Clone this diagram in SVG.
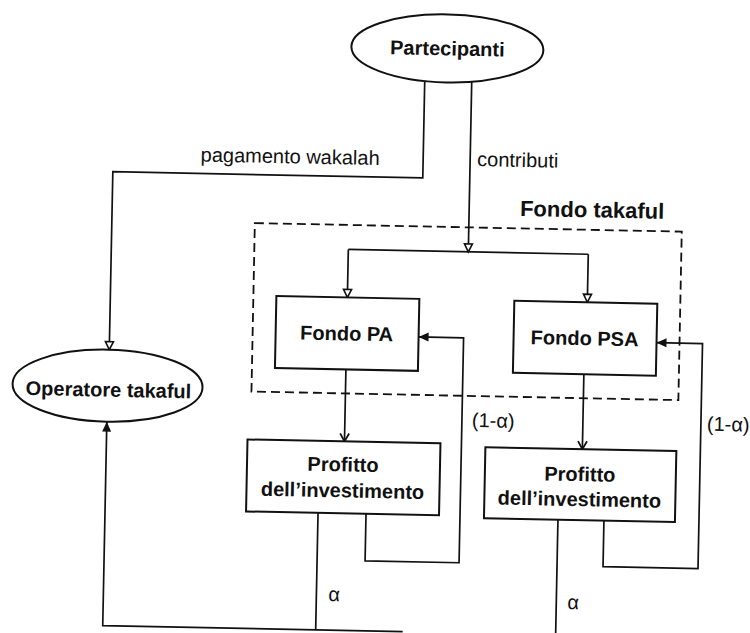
<svg xmlns="http://www.w3.org/2000/svg" width="750" height="633" viewBox="0 0 750 633">
  <style>
    .ln { fill: none; stroke: #111; stroke-width: 1.7; stroke-linejoin: miter; }
    .box { fill: #fff; stroke: #111; stroke-width: 2; }
    .dash { fill: none; stroke: #111; stroke-width: 1.8; stroke-dasharray: 9 5; }
    .nl { font-family: "Liberation Sans", Arial, sans-serif; font-weight: bold; font-size: 20px; fill: #111; text-anchor: middle; }
    .el { font-family: "Liberation Sans", Arial, sans-serif; font-size: 20px; fill: #111; }
    .title { font-family: "Liberation Sans", Arial, sans-serif; font-weight: bold; font-size: 22px; fill: #111; text-anchor: middle; }
  </style>
  <defs>
    <!-- hollow triangle head -->
    <marker id="tri" markerUnits="userSpaceOnUse" markerWidth="12" markerHeight="12" refX="9" refY="5" orient="auto" overflow="visible">
      <path d="M1,1 L9,5 L1,9 Z" fill="#fff" stroke="#111" stroke-width="1.6"/>
    </marker>
    <!-- open chevron head -->
    <marker id="vee" markerUnits="userSpaceOnUse" markerWidth="12" markerHeight="12" refX="9" refY="5" orient="auto" overflow="visible">
      <path d="M1,0.5 L9,5 L1,9.5" fill="none" stroke="#111" stroke-width="1.8"/>
    </marker>
    <!-- solid head -->
    <marker id="solid" markerUnits="userSpaceOnUse" markerWidth="12" markerHeight="12" refX="10" refY="5" orient="auto" overflow="visible">
      <path d="M0,0.5 L10,5 L0,9.5 Z" fill="#111"/>
    </marker>
  </defs>

  <rect x="0" y="0" width="750" height="633" fill="#fff"/>

  <g transform="rotate(1.15 375 316)">
    <!-- Fondo takaful boundary -->
    <g id="fondo-takaful">
      <rect class="dash" x="253" y="225.5" width="427" height="168.5"/>
      <text class="title" x="590" y="213">Fondo takaful</text>
    </g>

    <g id="connectors">
      <!-- pagamento wakalah -->
      <path class="ln" d="M420,80 V177 H110 V355" marker-end="url(#tri)"/>
      <text class="el" x="287" y="165" text-anchor="middle">pagamento wakalah</text>
      <!-- contributi -->
      <path class="ln" d="M467,80 V250" marker-end="url(#tri)"/>
      <text class="el" x="474" y="164" font-size="21">contributi</text>
      <!-- split into the two funds -->
      <path class="ln" d="M347,250 H587"/>
      <path class="ln" d="M347,250 V298" marker-end="url(#tri)"/>
      <path class="ln" d="M587,250 V298" marker-end="url(#tri)"/>
      <!-- funds to investment profit -->
      <path class="ln" d="M347,370 V442" marker-end="url(#vee)"/>
      <path class="ln" d="M585,370 V445" marker-end="url(#vee)"/>
      <!-- (1-α) back to the funds -->
      <path class="ln" d="M370,514 V561 H464 V336 H419" marker-end="url(#solid)"/>
      <text class="el" x="474" y="425" font-size="19">(1-α)</text>
      <path class="ln" d="M608,516 V562 H703 V337 H657" marker-end="url(#solid)"/>
      <text class="el" x="709" y="424" font-size="19">(1-α)</text>
      <!-- α to the operator -->
      <path class="ln" d="M322,514 V631"/>
      <text class="el" x="334" y="602" font-size="19">α</text>
      <path class="ln" d="M409,631 H109 V427" marker-end="url(#solid)"/>
      <path class="ln" d="M562,516 V645"/>
      <text class="el" x="573" y="605" font-size="19">α</text>
    </g>

    <g id="partecipanti">
      <ellipse class="box" cx="442" cy="47" rx="96" ry="34"/>
      <text class="nl" x="442" y="54">Partecipanti</text>
    </g>

    <g id="operatore-takaful">
      <ellipse class="box" cx="109" cy="391" rx="95" ry="36"/>
      <text class="nl" x="110" y="402">Operatore takaful</text>
    </g>

    <g id="fondo-pa">
      <rect class="box" x="276" y="298" width="143" height="72"/>
      <text class="nl" x="347" y="341">Fondo PA</text>
    </g>

    <g id="fondo-psa">
      <rect class="box" x="514" y="298" width="143" height="72"/>
      <text class="nl" x="585" y="341">Fondo PSA</text>
    </g>

    <g id="profitto-pa">
      <rect class="box" x="250" y="442" width="193" height="72"/>
      <text class="nl" x="346" y="472">Profitto</text>
      <text class="nl" x="346" y="498">dell’investimento</text>
    </g>

    <g id="profitto-psa">
      <rect class="box" x="488" y="445" width="191" height="71"/>
      <text class="nl" x="583" y="477">Profitto</text>
      <text class="nl" x="583" y="502">dell’investimento</text>
    </g>
  </g>
</svg>
